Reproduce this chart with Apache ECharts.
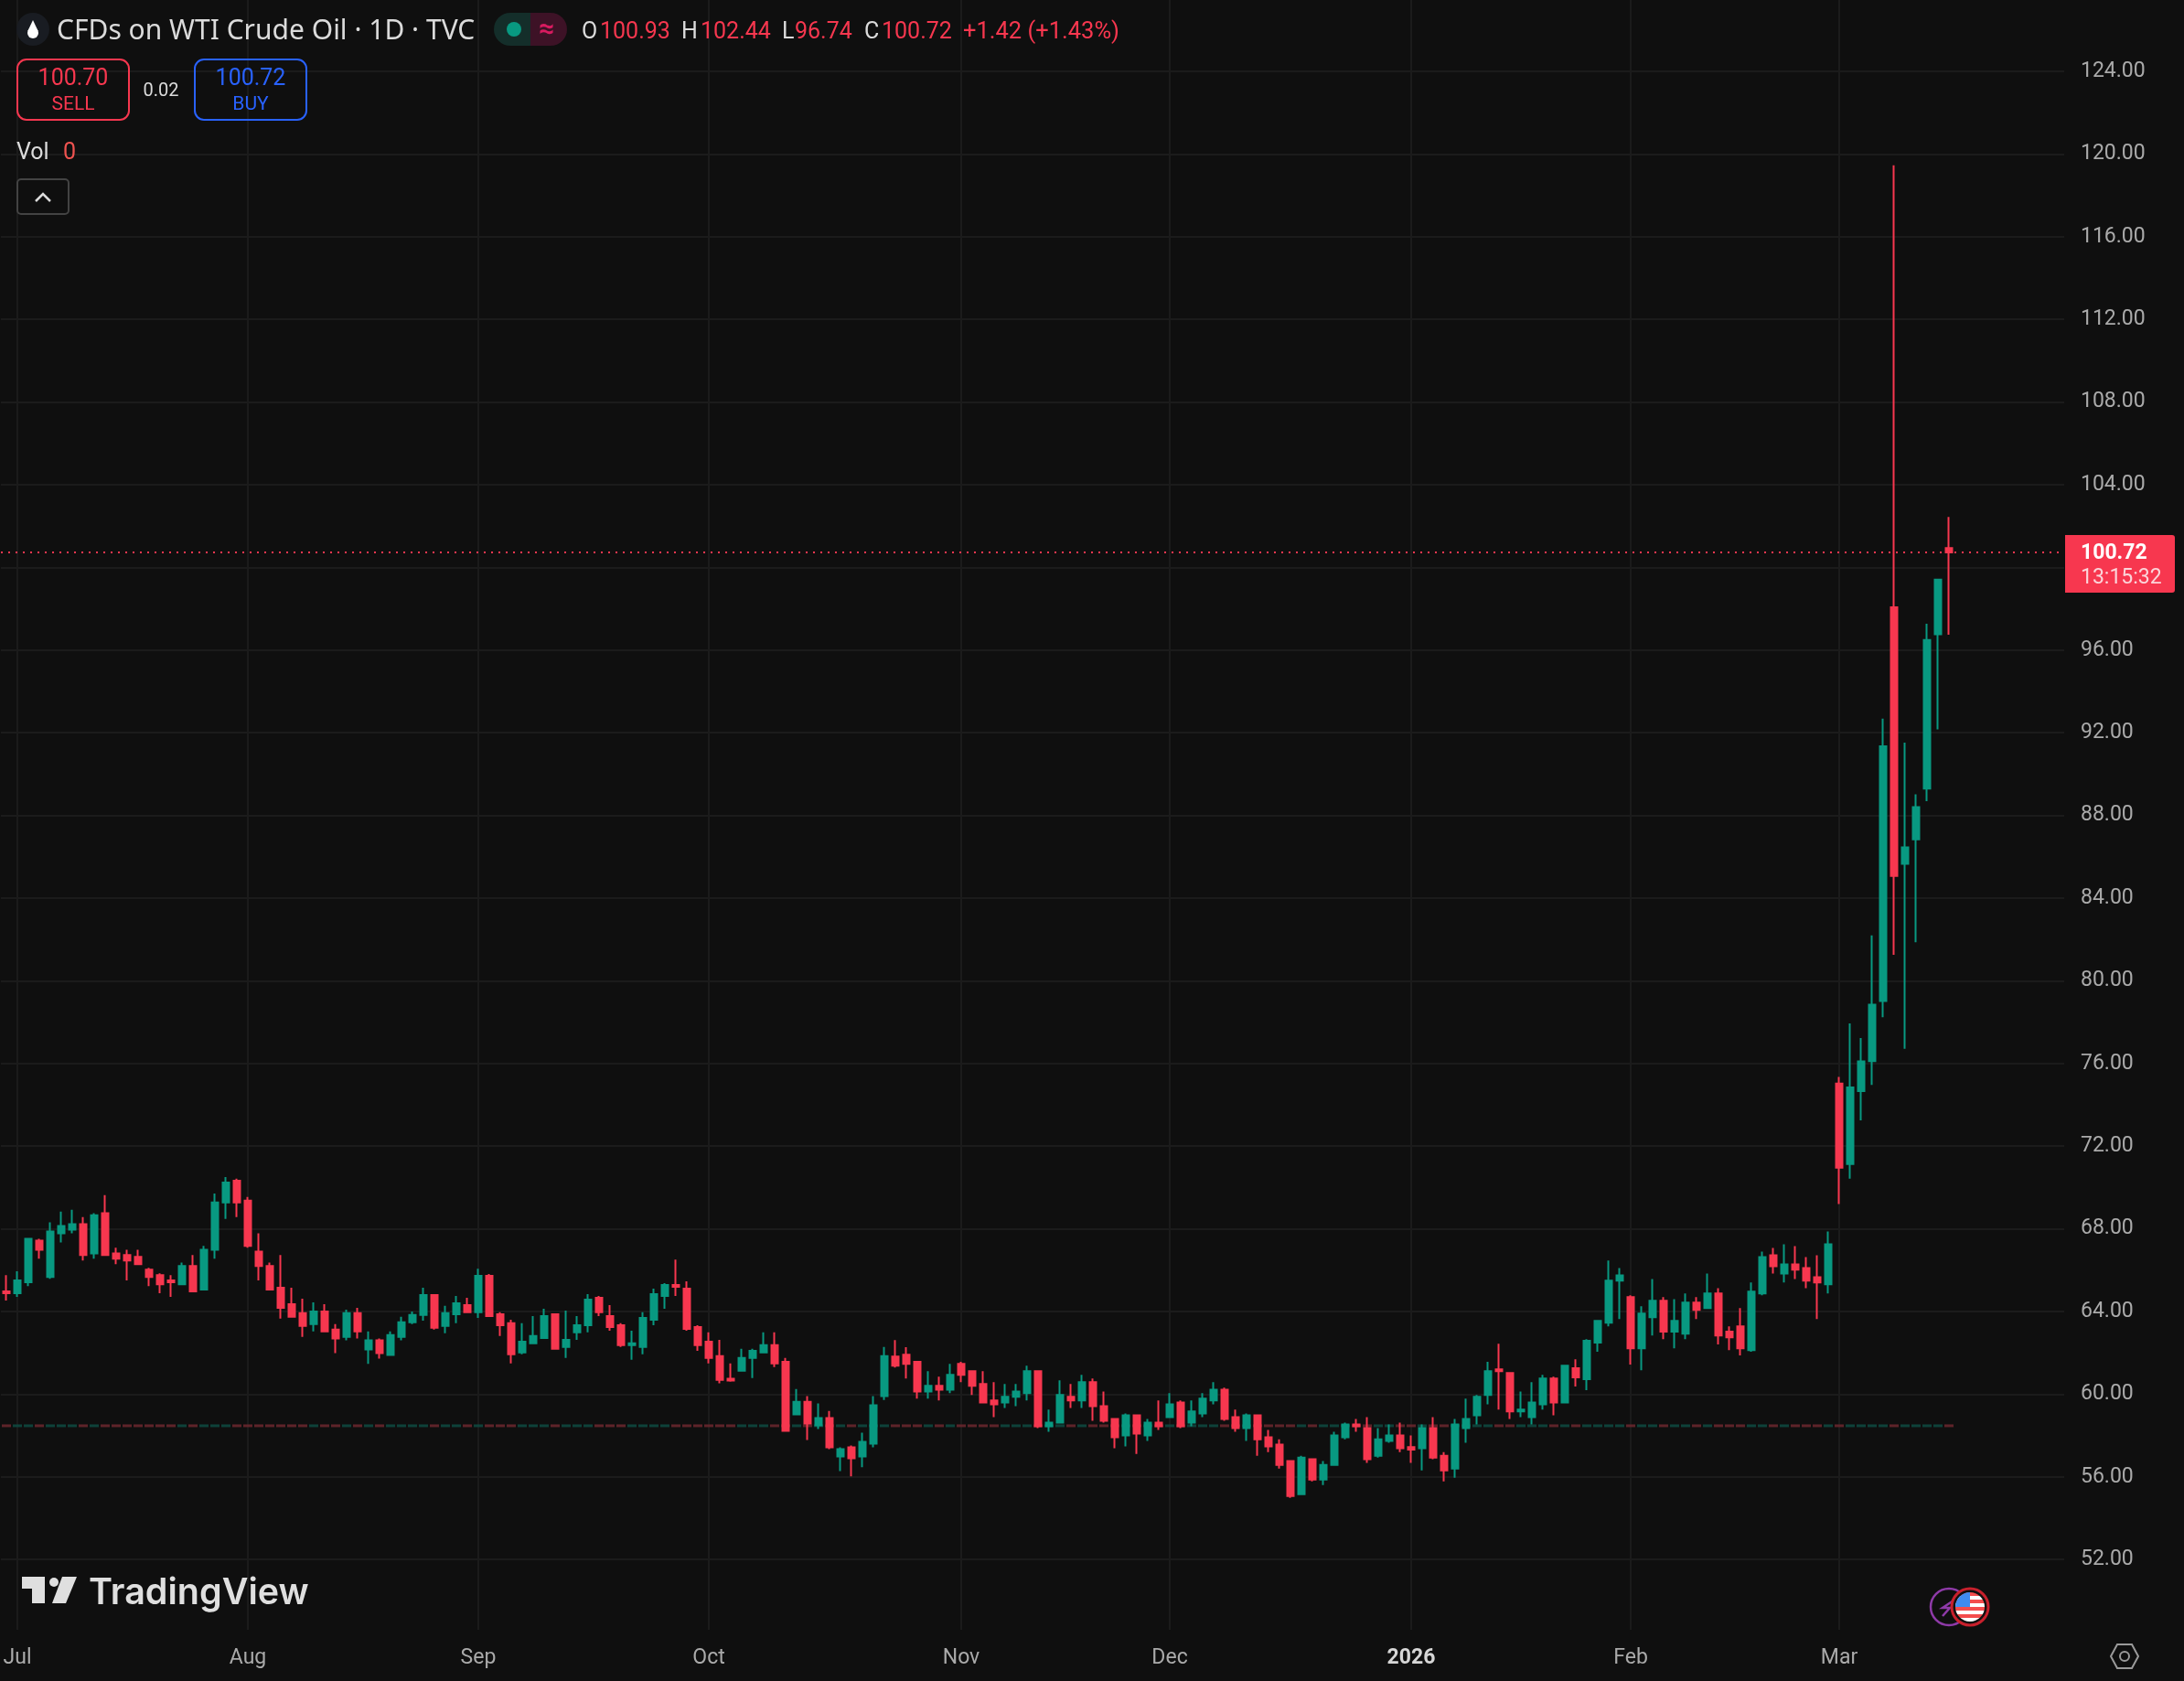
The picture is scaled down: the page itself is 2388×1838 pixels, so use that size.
<!DOCTYPE html>
<html>
<head>
<meta charset="utf-8">
<title>CFDs on WTI Crude Oil</title>
<style>
  html, body { margin: 0; padding: 0; background: #0f0f0f; }
  #main { width: 2388px; height: 1838px; }
</style>
</head>
<body>
<div id="main"></div>
<script src="https://cdn.jsdelivr.net/npm/echarts@6/dist/echarts.min.js"></script>
<script>
// daily bars, one entry per candle
const opens = [
  64.97,64.88,65.41,67.43,65.67,67.78,67.96,68.22,66.81,68.75,
  66.81,66.73,66.64,66.02,65.76,65.50,65.32,66.20,65.06,66.99,
  69.27,70.33,69.36,66.90,66.20,65.15,64.35,63.92,63.39,64.00,
  63.12,62.77,63.92,62.16,62.60,61.90,62.77,63.48,63.83,64.79,
  63.30,63.87,64.31,63.96,65.72,63.87,63.43,62.02,62.46,62.72,
  63.87,62.28,62.99,63.34,64.66,63.78,63.34,62.37,62.28,63.60,
  64.75,65.28,65.10,63.25,62.54,61.84,60.75,61.13,61.75,62.02,
  62.37,61.57,59.02,59.63,58.49,58.84,56.99,57.43,56.99,57.61,
  59.90,61.82,61.91,61.56,60.13,60.40,60.22,61.47,61.11,60.49,
  59.69,59.60,59.87,60.05,61.11,58.45,58.62,59.87,59.69,60.58,
  59.42,58.80,58.00,58.98,58.00,58.62,58.89,59.60,58.62,59.07,
  59.69,60.22,58.89,58.36,58.98,57.91,57.56,56.76,55.16,56.85,
  55.87,56.58,57.91,58.53,58.36,57.02,57.74,58.00,57.44,57.38,
  58.36,57.02,56.40,58.36,58.98,59.96,61.20,61.02,59.16,58.89,
  59.51,60.76,59.60,61.25,60.72,62.49,63.46,65.49,64.69,62.22,
  63.72,64.52,63.02,62.93,64.43,64.16,64.87,63.02,63.28,62.13,
  64.87,66.72,65.84,66.28,66.10,65.66,65.31,75.03,71.13,74.66,
  76.11,79.02,98.07,85.66,86.84,89.30,96.76,100.93
]
const closes = [
  64.88,65.50,67.52,66.99,67.87,68.13,68.22,66.73,68.66,66.73,
  66.55,66.46,66.29,65.67,65.32,65.41,66.20,64.97,66.99,69.27,
  70.24,69.27,67.17,66.20,65.06,64.18,63.74,63.30,64.00,63.04,
  62.69,63.92,63.04,62.60,61.98,62.86,63.48,63.83,64.79,63.21,
  63.92,64.40,63.96,65.72,63.78,63.34,61.93,62.54,62.81,63.78,
  62.19,62.63,63.34,64.57,63.96,63.25,62.37,62.46,63.69,64.84,
  65.28,65.19,63.16,62.37,61.75,60.69,60.66,61.75,62.10,62.37,
  61.49,58.22,59.63,58.58,58.84,57.43,57.34,56.90,57.69,59.46,
  61.84,61.38,61.47,60.13,60.40,60.22,60.93,60.93,60.40,59.60,
  59.51,59.87,60.13,61.11,58.45,58.62,59.96,59.69,60.58,59.42,
  58.71,57.91,58.98,58.09,58.62,58.45,59.51,58.45,59.16,59.78,
  60.22,58.80,58.36,58.98,57.82,57.47,56.58,55.07,56.93,55.87,
  56.58,58.00,58.53,58.45,56.85,57.82,58.00,57.38,57.32,58.36,
  56.93,56.31,58.53,58.80,59.87,61.11,61.11,59.16,59.25,59.60,
  60.76,59.60,61.38,60.81,62.58,63.55,65.49,65.75,62.22,63.90,
  64.52,63.02,63.55,64.43,64.08,64.87,62.84,62.75,62.22,64.96,
  66.63,66.19,66.28,66.02,65.49,65.40,67.25,70.96,74.84,76.10,
  78.84,91.34,85.07,86.45,88.40,96.49,99.41,100.72
]
const lows = [
  64.53,64.71,65.23,66.55,65.58,67.34,67.78,66.46,66.55,66.70,
  66.29,65.50,66.27,65.23,64.88,64.71,65.30,64.95,65.04,66.55,
  68.48,68.57,67.08,65.50,65.04,63.65,63.72,62.77,63.04,63.02,
  61.98,62.60,62.69,61.46,61.72,61.88,62.60,63.39,63.56,63.12,
  62.95,63.43,63.94,63.69,63.76,62.81,61.49,61.93,62.44,62.70,
  62.17,61.75,62.63,62.99,63.78,63.07,62.28,61.66,61.93,63.34,
  64.13,64.75,63.07,62.10,61.49,60.52,60.60,61.11,60.78,62.00,
  61.31,58.20,59.00,57.78,58.31,57.34,56.28,56.02,56.46,57.43,
  59.72,61.29,60.76,59.78,59.78,59.69,60.05,60.58,59.96,59.58,
  58.89,59.33,59.42,59.69,58.36,58.18,58.60,59.33,59.33,58.71,
  58.62,57.38,57.47,57.11,57.74,58.27,58.87,58.36,58.45,58.89,
  59.51,58.71,58.18,57.74,57.02,57.20,56.40,54.98,55.14,55.78,
  55.60,56.56,57.82,58.18,56.67,56.93,57.65,57.20,56.67,56.31,
  56.85,55.78,55.96,57.65,58.53,59.51,59.25,58.80,58.89,58.53,
  59.25,58.98,59.58,60.37,60.19,62.05,63.28,63.63,61.43,61.16,
  62.84,62.66,62.22,62.66,63.63,64.14,62.40,62.13,61.87,62.05,
  64.78,65.84,65.40,65.57,65.13,63.63,64.87,69.20,70.43,73.25,
  74.96,78.24,81.26,76.71,81.86,88.69,92.16,96.74
]
const highs = [
  65.76,65.94,67.55,67.52,68.31,68.83,68.92,68.57,68.75,69.63,
  67.08,66.99,66.99,66.11,65.85,65.76,66.37,66.73,67.17,69.71,
  70.50,70.42,69.54,67.78,66.37,66.73,65.15,64.62,64.44,64.35,
  63.39,64.09,64.18,63.04,62.69,63.04,63.74,64.00,65.15,64.81,
  64.27,64.75,64.66,66.07,65.81,63.96,63.60,63.43,63.78,64.13,
  63.89,64.04,63.78,64.84,64.75,64.31,63.43,63.07,63.96,65.10,
  65.37,66.51,65.46,63.34,62.99,62.63,61.49,62.19,62.19,62.99,
  62.99,61.75,60.25,59.90,59.55,59.19,57.43,57.52,58.13,59.90,
  62.28,62.62,62.27,61.58,61.11,60.85,61.47,61.56,61.13,61.11,
  60.58,60.49,60.49,61.38,61.13,59.25,60.67,60.49,60.93,60.76,
  60.13,58.82,59.07,59.00,58.80,59.69,60.05,59.69,59.69,60.05,
  60.58,60.31,59.25,59.07,59.00,58.27,57.82,56.78,57.02,56.87,
  56.76,58.18,58.62,58.80,58.89,58.36,58.53,58.62,58.00,58.53,
  58.89,57.20,58.80,59.78,59.96,61.56,62.44,61.04,60.13,60.58,
  60.93,60.85,61.40,61.69,62.66,63.57,66.46,66.10,64.78,64.25,
  65.57,64.69,64.60,64.87,64.69,65.84,65.13,63.28,64.16,65.40,
  66.90,67.07,67.25,67.16,66.63,66.72,67.87,75.35,77.94,77.23,
  82.20,92.68,119.45,91.52,89.02,97.27,99.43,102.44
]

// bar index where each month starts, and its label
const monthIdx = [1, 22, 43, 64, 87, 106, 128, 148, 167]
const monthLabels = ['Jul', 'Aug', 'Sep', 'Oct', 'Nov', 'Dec', '2026', 'Feb', 'Mar']
const priceTicks = [52, 56, 60, 64, 68, 72, 76, 80, 84, 88, 92, 96, 100, 104, 108, 112, 116, 120, 124]

const lastPrice = 100.72
const countdown = '13:15:32'
const volLevel = 58.47 // the empty Vol study sits flat here
const barSlots = 188 // room to the right of the last candle

const UP = '#089981'
const DOWN = '#F7374F'
const FONT = 'Roboto, sans-serif'

const categories = []
for (let i = 0; i < barSlots; i++) {
  const m = monthIdx.indexOf(i)
  categories.push(m >= 0 ? monthLabels[m] : String(i))
}

function txt(x, y, text, fill, size, extra) {
  return {
    type: 'text',
    x: x,
    y: y + 3, // these fonts sit a bit high when middle aligned
    z: 20,
    silent: true,
    style: Object.assign({
      text: text,
      fill: fill,
      fontSize: size,
      fontFamily: FONT,
      verticalAlign: 'middle'
    }, extra || {})
  }
}

function box(x, y, w, h, r, stroke) {
  return {
    type: 'rect',
    z: 20,
    silent: true,
    shape: { x: x, y: y, width: w, height: h, r: r },
    style: { fill: 'none', stroke: stroke, lineWidth: 2 }
  }
}

const flagStripes = []
for (let i = 0; i < 8; i++) {
  flagStripes.push({ offset: i / 8, color: i % 2 ? '#ffffff' : '#F44D4D' })
  flagStripes.push({ offset: (i + 1) / 8, color: i % 2 ? '#ffffff' : '#F44D4D' })
}

const headerItems = [
  // symbol icon
  { type: 'circle', z: 20, silent: true, shape: { cx: 36, cy: 32, r: 18 }, style: { fill: '#191c22' } },
  { type: 'circle', z: 21, silent: true, shape: { cx: 36, cy: 36, r: 6 }, style: { fill: '#ffffff' } },
  { type: 'polygon', z: 21, silent: true, shape: { points: [[36, 22], [30.3, 34], [41.7, 34]] }, style: { fill: '#ffffff' } },
  txt(62, 31, 'CFDs on WTI Crude Oil \u00b7 1D \u00b7 TVC', '#DBDBDB', 30, { fontFamily: '"Noto Sans", sans-serif' }),
  // market status pill
  { type: 'rect', z: 20, silent: true, shape: { x: 540, y: 14, width: 60, height: 36, r: [18, 0, 0, 18] }, style: { fill: '#142e2a' } },
  { type: 'rect', z: 20, silent: true, shape: { x: 580, y: 14, width: 40, height: 36, r: [0, 18, 18, 0] }, style: { fill: '#3d1226' } },
  { type: 'circle', z: 21, silent: true, shape: { cx: 562, cy: 32, r: 8 }, style: { fill: UP } },
  txt(598, 30, '\u2248', '#D81B60', 30, { align: 'center', fontWeight: 'bold' }),
  // OHLC
  txt(636, 33, 'O', '#DBDBDB', 25),
  txt(656, 33, '100.93', DOWN, 25),
  txt(745, 33, 'H', '#DBDBDB', 25),
  txt(766, 33, '102.44', DOWN, 25),
  txt(855, 33, 'L', '#DBDBDB', 25),
  txt(869, 33, '96.74', DOWN, 25),
  txt(945, 33, 'C', '#DBDBDB', 25),
  txt(964, 33, '100.72', DOWN, 25),
  txt(1053, 33, '+1.42 (+1.43%)', DOWN, 25.5),
  // sell / buy
  box(19, 65, 122, 66, 10, DOWN),
  txt(80, 84, '100.70', DOWN, 25, { align: 'center' }),
  txt(80, 112, 'SELL', DOWN, 21, { align: 'center' }),
  txt(176, 97, '0.02', '#DBDBDB', 20, { align: 'center' }),
  box(213, 65, 122, 66, 10, '#2962FF'),
  txt(274, 84, '100.72', '#2962FF', 25, { align: 'center' }),
  txt(274, 112, 'BUY', '#2962FF', 21, { align: 'center' }),
  // Vol legend
  txt(18, 165, 'Vol', '#DBDBDB', 25),
  txt(69, 165, '0', '#EF5350', 25),
  box(19, 196, 56, 38, 4, '#434343'),
  { type: 'polyline', z: 21, silent: true, shape: { points: [[39, 220], [47, 212], [55, 220]] }, style: { fill: 'none', stroke: '#DBDBDB', lineWidth: 2.5 } }
]

const footerItems = [
  // TradingView mark
  { type: 'polygon', z: 20, silent: true, shape: { points: [[24, 1724], [49, 1724], [49, 1753], [35, 1753], [35, 1737], [24, 1737]] }, style: { fill: '#DFDFDF' } },
  { type: 'circle', z: 20, silent: true, shape: { cx: 59, cy: 1730, r: 5 }, style: { fill: '#DFDFDF' } },
  { type: 'polygon', z: 20, silent: true, shape: { points: [[68, 1724], [84, 1724], [72, 1753], [57, 1753]] }, style: { fill: '#DFDFDF' } },
  txt(97, 1739, 'TradingView', '#DFDFDF', 39.5, { fontFamily: 'Inter, sans-serif', fontWeight: 600 }),
  // news badge and flag
  { type: 'circle', z: 20, silent: true, shape: { cx: 2131, cy: 1757, r: 20 }, style: { fill: 'none', stroke: '#8E3AA8', lineWidth: 2.5 } },
  { type: 'polyline', z: 20, silent: true, shape: { points: [[2136, 1750], [2124, 1758], [2132, 1758], [2124, 1767]] }, style: { fill: 'none', stroke: '#8E3AA8', lineWidth: 2.5 } },
  { type: 'circle', z: 21, silent: true, shape: { cx: 2154, cy: 1757, r: 20 }, style: { fill: '#111111', stroke: '#C8202C', lineWidth: 3 } },
  {
    type: 'circle', z: 22, silent: true, shape: { cx: 2154, cy: 1757, r: 16 },
    style: { fill: { type: 'linear', x: 0, y: 0, x2: 0, y2: 1, colorStops: flagStripes } }
  },
  { type: 'sector', z: 23, silent: true, shape: { cx: 2154, cy: 1757, r: 16, r0: 0, startAngle: Math.PI, endAngle: Math.PI * 1.5 }, style: { fill: '#3F8CF0' } },
  // settings hexagon
  { type: 'polygon', z: 20, silent: true, shape: { points: [[2308, 1811], [2315, 1798], [2331, 1798], [2338, 1811], [2331, 1824], [2315, 1824]] }, style: { fill: 'none', stroke: '#9A9A9A', lineWidth: 2 } },
  { type: 'circle', z: 20, silent: true, shape: { cx: 2323, cy: 1811, r: 5 }, style: { fill: 'none', stroke: '#9A9A9A', lineWidth: 2 } }
]

const chart = echarts.init(document.getElementById('main'))
chart.setOption({
  animation: false,
  backgroundColor: '#0F0F0F',
  grid: { left: 1, top: 0, width: 2256, height: 1782 },
  xAxis: {
    type: 'category',
    data: categories,
    boundaryGap: true,
    axisLine: { show: false },
    axisTick: { show: false, alignWithLabel: true, interval: (i) => monthIdx.includes(i) },
    splitLine: {
      show: true,
      alignWithLabel: true,
      interval: (i) => monthIdx.includes(i),
      lineStyle: { color: '#1B1B1B', width: 2 }
    },
    axisLabel: {
      interval: (i) => monthIdx.includes(i),
      margin: 20,
      color: '#AAAAAA',
      fontSize: 23,
      fontFamily: FONT,
      formatter: (v) => v === '2026' ? '{b|2026}' : v,
      rich: { b: { fontWeight: 'bold', color: '#D6D6D6', fontSize: 23, fontFamily: FONT } }
    }
  },
  yAxis: {
    type: 'value',
    position: 'right',
    scale: true,
    min: 48.6,
    max: 127.45,
    axisLine: { show: false },
    axisTick: { show: false, customValues: priceTicks },
    splitLine: { show: true, lineStyle: { color: '#1B1B1B', width: 2 } },
    axisLabel: {
      customValues: priceTicks,
      margin: 18,
      padding: [6, 0, 0, 0],
      color: '#AAAAAA',
      fontSize: 23,
      fontFamily: FONT,
      formatter: (v) => v.toFixed(2)
    }
  },
  series: [
    {
      // Vol study has no data, it only leaves one dash per bar
      type: 'scatter',
      z: 1,
      silent: true,
      symbol: 'rect',
      symbolSize: [10, 3],
      data: opens.map((o, i) => [i, volLevel]),
      itemStyle: {
        color: (p) => closes[p.dataIndex] >= opens[p.dataIndex] ? '#0E4F45' : '#72282F'
      }
    },
    {
      type: 'candlestick',
      z: 3,
      silent: true,
      barWidth: 8,
      data: opens.map((o, i) => [o, closes[i], lows[i], highs[i]]),
      itemStyle: {
        color: UP,
        color0: DOWN,
        borderColor: UP,
        borderColor0: DOWN,
        borderWidth: 2
      },
      markLine: {
        silent: true,
        symbol: 'none',
        animation: false,
        lineStyle: { color: DOWN, type: [2, 6], width: 2 },
        label: {
          show: true,
          position: 'end',
          distance: 1,
          align: 'left',
          verticalAlign: 'top',
          offset: [0, -19],
          width: 103,
          padding: [7, 0, 2, 17],
          backgroundColor: DOWN,
          borderRadius: [0, 3, 3, 0],
          formatter: () => '{p|' + lastPrice.toFixed(2) + '}\n{t|' + countdown + '}',
          rich: {
            p: { color: '#FFFFFF', fontSize: 23, fontWeight: 'bold', fontFamily: FONT, lineHeight: 27 },
            t: { color: '#FBD5DA', fontSize: 23, fontFamily: FONT, lineHeight: 27 }
          }
        },
        data: [{ yAxis: lastPrice }]
      }
    }
  ],
  graphic: { elements: headerItems.concat(footerItems) }
})
</script>
</body>
</html>
